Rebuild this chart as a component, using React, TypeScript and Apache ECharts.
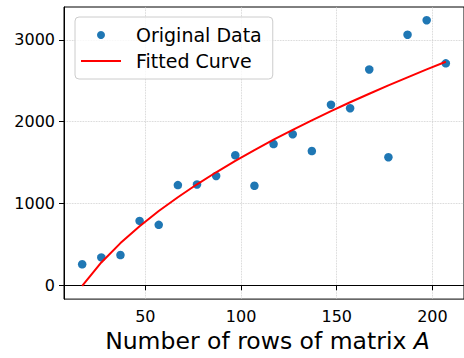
import React, { useEffect, useRef } from "react";
import * as echarts from "echarts";

const xValues = [17, 27, 37, 47, 57, 67, 77, 87, 97, 107, 117, 127, 137, 147, 157, 167, 177, 187, 197, 207];
const originalData = [257, 341, 370, 787, 739, 1225, 1233, 1337, 1590, 1217, 1727, 1847, 1642, 2208, 2165, 2639, 1566, 3064, 3241, 2714];
const fittedCurve = [-7, 279, 516, 722, 908, 1077, 1235, 1382, 1522, 1654, 1780, 1901, 2017, 2129, 2238, 2342, 2444, 2543, 2640, 2733];
const xTicks = [50, 100, 150, 200];
const yTicks = [0, 1000, 2000, 3000];

const FONT = "DejaVu Sans";

export default function App() {
  const ref = useRef<HTMLDivElement>(null);
  useEffect(() => {
    if (!ref.current) return;
    const chart = echarts.init(ref.current, null, { renderer: "svg" });
    chart.setOption({
      animation: false,
      textStyle: { fontFamily: FONT },
      grid: { left: 64, right: -8, top: 7, bottom: 54, show: true, borderColor: "#000", borderWidth: 1, containLabel: false },
      legend: {
        left: 75,
        top: 17,
        orient: "vertical",
        padding: [7, 11, 7, 6],
        itemGap: 4,
        itemWidth: 40,
        itemHeight: 8,
        backgroundColor: "rgba(255,255,255,0.8)",
        borderColor: "#cccccc",
        borderWidth: 1,
        borderRadius: 4,
        textStyle: { fontFamily: FONT, fontSize: 19, color: "#000", lineHeight: 22, padding: [0, 0, 0, 10] },
        data: [
          { name: "Original Data", icon: "circle" },
          { name: "Fitted Curve", icon: "path://M0,0H40V2H0Z" },
        ],
      },
      xAxis: {
        type: "value",
        min: 7.5,
        max: 216.5,
        name: "Number of rows of matrix {i|A}",
        nameLocation: "middle",
        nameGap: 28,
        nameTextStyle: {
          fontFamily: FONT,
          fontSize: 23.5,
          color: "#000",
          padding: [0, 0, 0, 7],
          rich: { i: { fontFamily: FONT, fontSize: 23.5, fontStyle: "italic", color: "#000" } },
        },
        axisLine: { show: true, lineStyle: { color: "#000", width: 1 } },
        axisTick: { show: true, length: 5, lineStyle: { color: "#000" }, customValues: xTicks },
        axisLabel: { fontFamily: FONT, fontSize: 16, color: "#000", margin: 9, customValues: xTicks, formatter: (v: number) => String(v) },
        splitLine: { show: true, lineStyle: { color: "#c8c8c8", type: "dotted", width: 0.8 } },
      },
      yAxis: {
        type: "value",
        min: -169,
        max: 3403,
        axisLine: { show: true, lineStyle: { color: "#000", width: 1 } },
        axisTick: { show: true, length: 5, lineStyle: { color: "#000" }, customValues: yTicks },
        axisLabel: { fontFamily: FONT, fontSize: 16, color: "#000", margin: 9, customValues: yTicks, formatter: (v: number) => String(v) },
        splitLine: { show: true, lineStyle: { color: "#c8c8c8", type: "dotted", width: 0.8 } },
      },
      series: [
        {
          name: "Original Data",
          type: "scatter",
          symbol: "circle",
          symbolSize: 8.5,
          itemStyle: { color: "#1f77b4", opacity: 1 },
          data: xValues.map((x, i) => [x, originalData[i]]),
        },
        {
          name: "Fitted Curve",
          type: "line",
          symbol: "none",
          lineStyle: { color: "#ff0000", width: 2 },
          itemStyle: { color: "#ff0000" },
          data: xValues.map((x, i) => [x, fittedCurve[i]]),
        },
      ],
    });
    return () => chart.dispose();
  }, []);
  return <div ref={ref} style={{ width: 464, height: 358, position: "absolute", left: 0, top: 0 }} />;
}
